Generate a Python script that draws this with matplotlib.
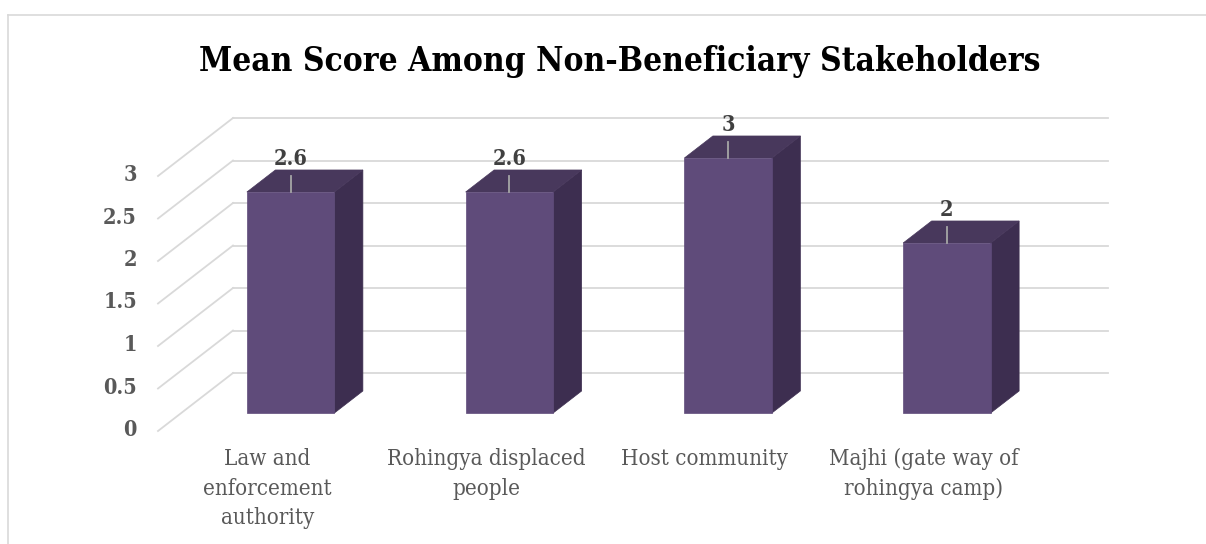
import numpy as np
import matplotlib
matplotlib.use("Agg")
import matplotlib.pyplot as plt
import matplotlib.transforms as mtransforms
from matplotlib.patches import Polygon
from matplotlib.lines import Line2D

# data
categories = [
    "Law and\nenforcement\nauthority",
    "Rohingya displaced\npeople",
    "Host community",
    "Majhi (gate way of\nrohingya camp)",
]
scores = [2.6, 2.6, 3, 2]
score_labels = ["2.6", "2.6", "3", "2"]
yticks = [0, 0.5, 1, 1.5, 2, 2.5, 3]
ytick_labels = ["0", "0.5", "1", "1.5", "2", "2.5", "3"]
title = "Mean Score Among Non-Beneficiary Stakeholders"

# style
FRONT = "#5F4B7A"
TOP = "#48385C"
SIDE = "#3D2E50"
GRID = "#D9D9D9"
TXT = "#595959"
FONT = "DejaVu Serif"
DX, DY = 75, 58          # depth of the box in pixels
Z0, Z1 = 0.31, 0.69      # bar depth range
HALF = 0.2               # bar half width (category units)

W, H = 1206, 544
fig = plt.figure(figsize=(W / 100, H / 100), dpi=100)
ax = fig.add_axes([158 / W, 113 / H, 875 / W, 255 / H])
ax.set_xlim(-0.5, len(categories) - 0.5)
ax.set_ylim(0, 3)
ax.axis("off")
ident = mtransforms.IdentityTransform()


def proj(x, v, z):
    px, py = ax.transData.transform((x, v))
    return (px + z * DX, py + z * DY)


# chart frame
fig.add_artist(Line2D([8 / W, 8 / W], [-0.1, 1 - 15 / H], transform=fig.transFigure,
                      color=GRID, lw=1.2))
fig.add_artist(Line2D([8 / W, 1.1], [1 - 15 / H, 1 - 15 / H], transform=fig.transFigure,
                      color=GRID, lw=1.2))

x_left, x_right = -0.5, len(categories) - 0.5
for v, lab in zip(yticks, ytick_labels):
    # back wall
    a, b = proj(x_left, v, 1), proj(x_right, v, 1)
    ax.add_line(Line2D([a[0], b[0]], [a[1], b[1]], transform=ident, color=GRID,
                       lw=1.3, clip_on=False, zorder=1))
    # side wall
    f = proj(x_left, v, 0)
    ax.add_line(Line2D([f[0], a[0]], [f[1], a[1]], transform=ident, color=GRID,
                       lw=1.3, clip_on=False, zorder=1))
    ax.text(f[0] - 21, f[1] + 1, lab, transform=ident, ha="right", va="center",
            fontsize=15.5, fontweight="bold", color=TXT, family=FONT,
            fontstretch="condensed")

for i, (v, lab) in enumerate(zip(scores, score_labels)):
    l, r = i - HALF, i + HALF
    front = [proj(l, 0, Z0), proj(r, 0, Z0), proj(r, v, Z0), proj(l, v, Z0)]
    top = [proj(l, v, Z0), proj(r, v, Z0), proj(r, v, Z1), proj(l, v, Z1)]
    side = [proj(r, 0, Z0), proj(r, 0, Z1), proj(r, v, Z1), proj(r, v, Z0)]
    for pts, c in [(side, SIDE), (top, TOP), (front, FRONT)]:
        ax.add_patch(Polygon(pts, closed=True, transform=ident, facecolor=c,
                             edgecolor=c, lw=0.5, clip_on=False, zorder=3))
    cx, cy = proj(i, v, Z0)
    ax.add_line(Line2D([cx, cx], [cy, cy + 16], transform=ident, color="#A6A6A6",
                       lw=1.3, clip_on=False, zorder=4))
    ax.text(cx, cy + 33, lab, transform=ident, ha="center", va="center",
            fontsize=15.5, fontweight="bold", color="#404040", family=FONT,
            fontstretch="condensed", zorder=5)

for i, cat in enumerate(categories):
    cx, cy = proj(i, 0, 0)
    ax.text(cx, cy - 17, cat, transform=ident, ha="center", va="top",
            multialignment="center", fontsize=16, color=TXT, family=FONT,
            fontstretch="condensed", linespacing=1.45)

fig.text(620 / W, 1 - 62 / H, title, ha="center", va="center", fontsize=24,
         fontweight="bold", color="black", family=FONT, fontstretch="condensed")

fig.savefig("out.png", dpi=100)
